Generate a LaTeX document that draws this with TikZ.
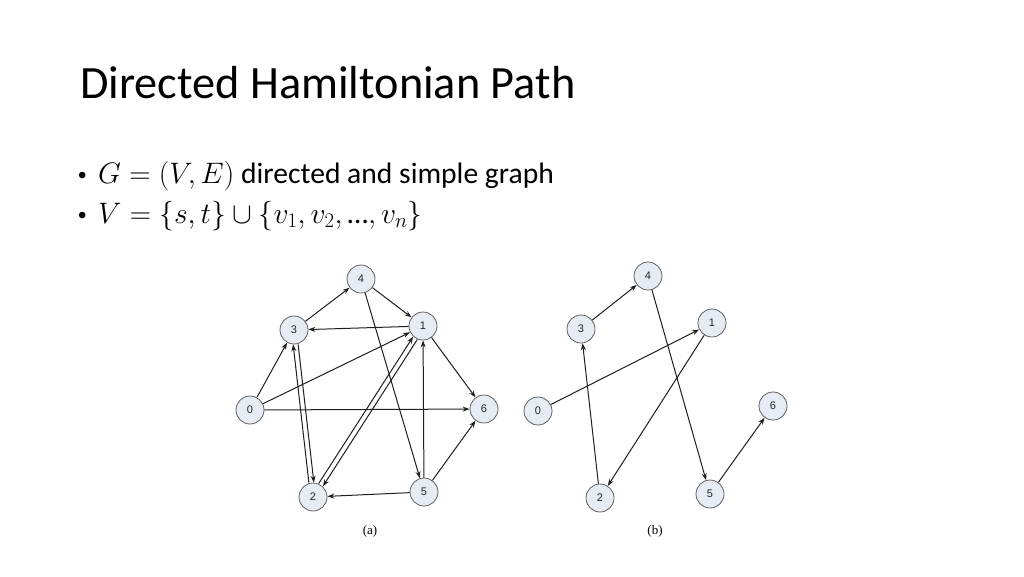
\RequirePackage{fix-cm}
\documentclass[tikz,border=0pt]{standalone}
\usepackage{fontspec}
\setmainfont{Carlito}
\newfontfamily\nodefont{Liberation Sans}
\newfontfamily\capfont{Liberation Serif}
\usepackage{tikz}
\usetikzlibrary{arrows.meta,positioning}
\definecolor{vertexFill}{RGB}{230,236,244}
\definecolor{vertexLine}{RGB}{95,95,95}
\definecolor{arcGray}{RGB}{30,30,30}

\begin{document}
\begin{tikzpicture}[x=1pt,y=-1pt,
    vertex/.style={circle,draw=vertexLine,fill=vertexFill,line width=0.8pt,minimum size=28pt,inner sep=0pt,
      font=\nodefont\fontsize{11}{13}\selectfont,text=black!85},
    arc/.style={-{Stealth[length=7pt,width=5pt]},arcGray,line width=1pt},
    body/.style={anchor=base west,inner sep=0pt,font=\fontsize{29.6}{34}\selectfont}]
  \useasboundingbox (0,0) rectangle (1024,576);

  % Title and bullets
  \node[anchor=base west,inner sep=0pt,font=\fontsize{46.3}{56}\selectfont] (title) at (80,98) {Directed Hamiltonian Path};
  \node[body] (bulletG) at (78,183) {\makebox[20pt][l]{\nodefont\fontsize{24}{28}\selectfont\textbullet}$G=(V,E)$ directed and simple graph};
  \node[body] (bulletV) at (78,223) {\makebox[20pt][l]{\nodefont\fontsize{24}{28}\selectfont\textbullet}$V=\{s,t\}\cup\{v_1,v_2,\mbox{…},v_n\}$};

  % Graph (a)
  \foreach \n/\x/\y in {0/250/410,1/423/326,2/313/497,3/294/330,4/361/279,5/424/492,6/484/409}
    \node[vertex] (a\n) at (\x,\y) {\n};
  \foreach \s/\t in {0/3,0/1,0/6,3/4,4/1,4/5,1/3,1/6,5/1,5/2,5/6}
    \draw[arc] (a\s) -- (a\t);
  % Pairs of opposite arcs
  \draw[arc,transform canvas={xshift=-2.5pt}] (a2) -- (a3);
  \draw[arc,transform canvas={xshift=2.5pt}] (a3) -- (a2);
  \draw[arc,transform canvas={xshift=-2.1pt,yshift=1.4pt}] (a2) -- (a1);
  \draw[arc,transform canvas={xshift=2.1pt,yshift=-1.4pt}] (a1) -- (a2);
  \node[font=\capfont\fontsize{13}{15}\selectfont] (capA) at (370,531) {(a)};

  % Graph (b)
  \foreach \n/\x/\y in {0/538/411,1/712/323,2/600/498,3/581/329,4/648/276,5/710/494,6/773/406}
    \node[vertex] (b\n) at (\x,\y) {\n};
  \foreach \s/\t in {3/4,4/5,0/1,1/2,2/3,5/6}
    \draw[arc] (b\s) -- (b\t);
  \node[font=\capfont\fontsize{13}{15}\selectfont] (capB) at (655,531) {(b)};
\end{tikzpicture}
\end{document}
